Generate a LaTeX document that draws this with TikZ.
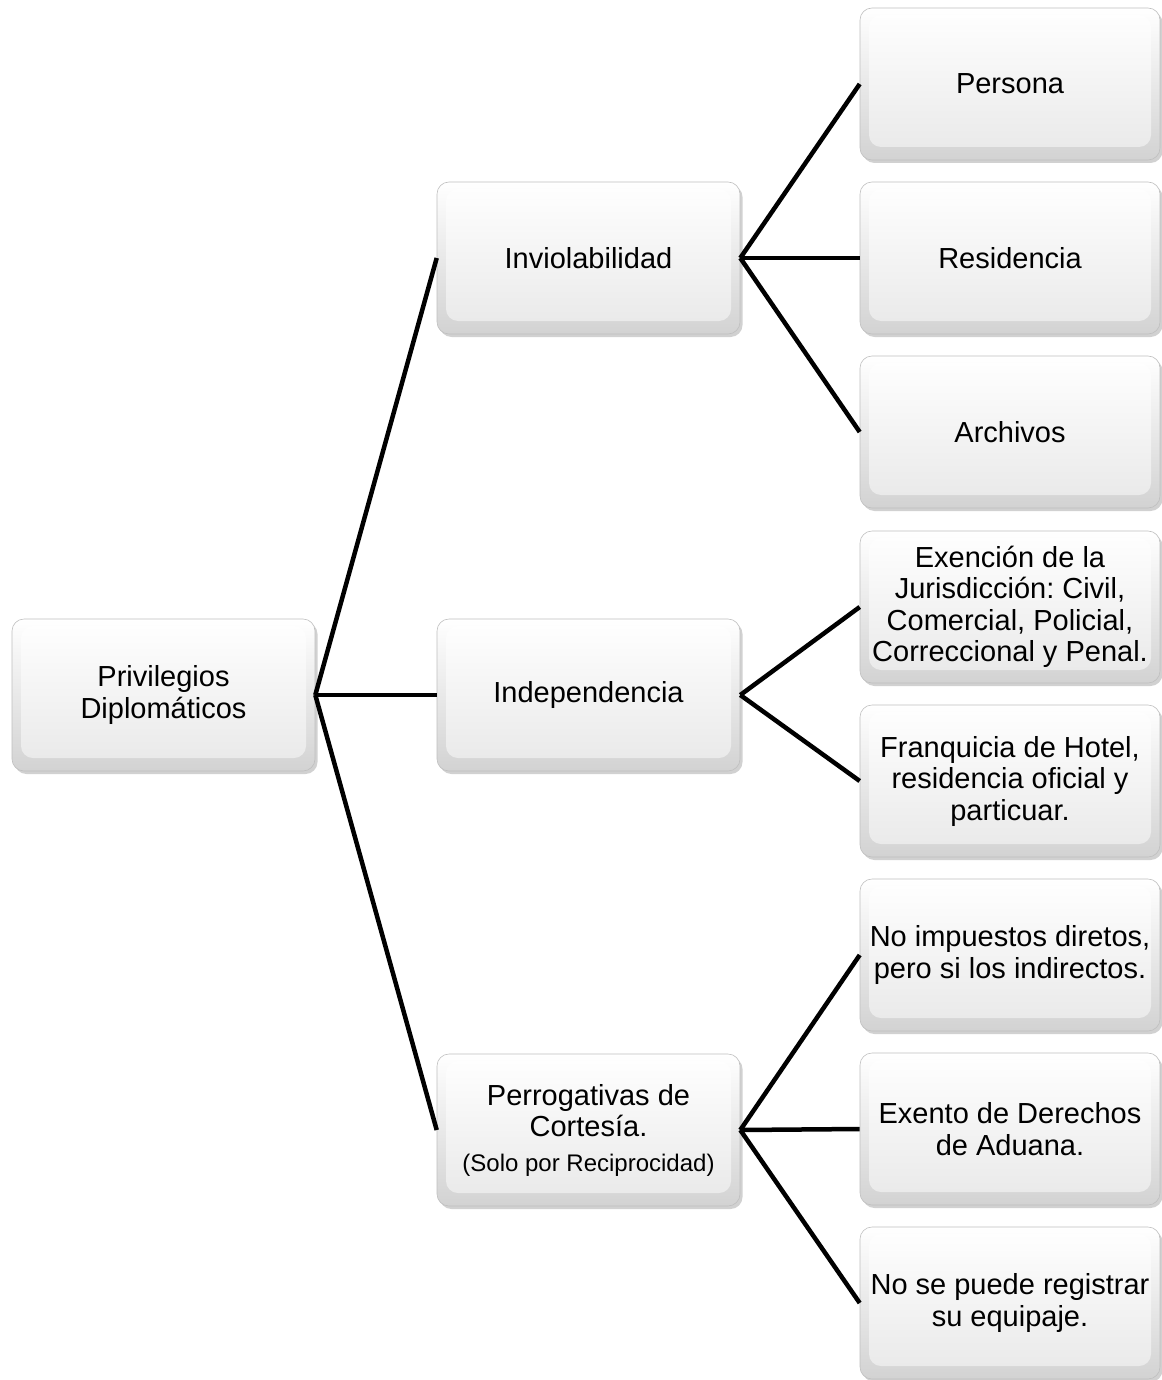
\documentclass[tikz,border=0pt]{standalone}
\usepackage{fontspec}
\setmainfont{Liberation Sans}
\frenchspacing
\usetikzlibrary{shadows}
\tikzset{
  box/.style={rectangle, rounded corners=12pt, minimum height=152pt, inner sep=0pt,
    align=flush center, draw=gray!50, line width=0.6pt,
    top color=white, bottom color=gray!35,
    drop shadow={shadow xshift=2.5pt, shadow yshift=-3pt, opacity=0.45, fill=gray!80},
    font=\fontsize{29}{31.5}\selectfont,
    path picture={\shade[top color=white, bottom color=gray!18]
      ([xshift=9pt,yshift=-7pt]path picture bounding box.north west) rectangle
      ([xshift=-9pt,yshift=13pt]path picture bounding box.south east);}},
  boxa/.style={box, minimum width=303pt, text width=295pt},
  boxc/.style={box, minimum width=300pt, text width=298pt},
  conn/.style={line width=4.5pt, black}
}
\begin{document}
\begin{tikzpicture}[x=1pt,y=-1pt]
\useasboundingbox (0,0) rectangle (1161,1380);
\node[boxa] (root) at (163.5,695) {Privilegios\\Diplom\'aticos};
\node[boxa] (inv) at (588.5,258) {Inviolabilidad};
\node[boxa] (ind) at (588.5,695) {Independencia};
\node[boxa] (per) at (588.5,1130) {Perrogativas de\\Cortes\'ia.\\[3pt]{\fontsize{24}{27}\selectfont (Solo por Reciprocidad)}};
\node[boxc] (c1) at (1010,84) {Persona};
\node[boxc] (c2) at (1010,258) {Residencia};
\node[boxc] (c3) at (1010,432) {Archivos};
\node[boxc] (c4) at (1010,607) {Exenci\'on de la\\Jurisdicci\'on: Civil,\\Comercial, Policial,\\Correccional y Penal.};
\node[boxc] (c5) at (1010,781) {Franquicia de Hotel,\\residencia oficial y\\particuar.};
\node[boxc] (c6) at (1010,955) {No impuestos diretos,\\pero si los indirectos.};
\node[boxc] (c7) at (1010,1129) {Exento de Derechos\\de Aduana.};
\node[boxc] (c8) at (1010,1303) {No se puede registrar\\su equipaje.};
\draw[conn] (root.east) -- (inv.west);
\draw[conn] (root.east) -- (ind.west);
\draw[conn] (root.east) -- (per.west);
\draw[conn] (inv.east) -- (c1.west);
\draw[conn] (inv.east) -- (c2.west);
\draw[conn] (inv.east) -- (c3.west);
\draw[conn] (ind.east) -- (c4.west);
\draw[conn] (ind.east) -- (c5.west);
\draw[conn] (per.east) -- (c6.west);
\draw[conn] (per.east) -- (c7.west);
\draw[conn] (per.east) -- (c8.west);
\end{tikzpicture}
\end{document}
